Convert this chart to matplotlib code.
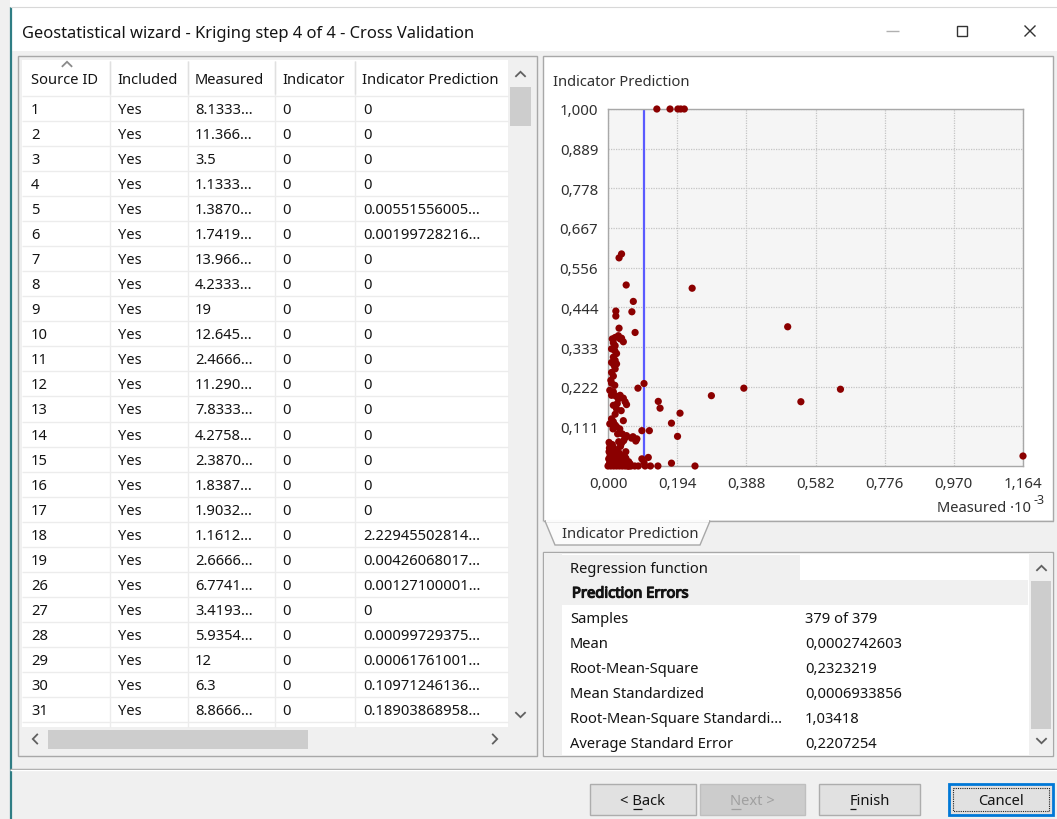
import matplotlib
matplotlib.use("Agg")
import matplotlib.pyplot as plt
import matplotlib.patheffects as pe
from matplotlib.patches import Rectangle, Polygon
from matplotlib.ticker import FixedLocator, FuncFormatter

plt.rcParams['font.family'] = ['Noto Sans', 'DejaVu Sans']

W, H = 1057, 820

# ---------------- data ----------------
window_title = "Geostatistical wizard - Kriging step 4 of 4 - Cross Validation"

table_columns = ["Source ID", "Included", "Measured", "Indicator", "Indicator Prediction"]
source_ids = ["1", "2", "3", "4", "5", "6", "7", "8", "9", "10", "11", "12", "13", "14",
              "15", "16", "17", "18", "19", "26", "27", "28", "29", "30", "31"]
included = ["Yes"] * len(source_ids)
measured_text = ["8.1333...", "11.366...", "3.5", "1.1333...", "1.3870...", "1.7419...",
                 "13.966...", "4.2333...", "19", "12.645...", "2.4666...", "11.290...",
                 "7.8333...", "4.2758...", "2.3870...", "1.8387...", "1.9032...", "1.1612...",
                 "2.6666...", "6.7741...", "3.4193...", "5.9354...", "12", "6.3", "8.8666..."]
indicator = ["0"] * len(source_ids)
prediction_text = ["0", "0", "0", "0", "0.00551556005...", "0.00199728216...", "0", "0",
                   "0", "0", "0", "0", "0", "0", "0", "0", "0", "2.22945502814...",
                   "0.00426068017...", "0.00127100001...", "0", "0.00099729375...",
                   "0.00061761001...", "0.10971246136...", "0.18903868958..."]

stat_labels = ["Samples", "Mean", "Root-Mean-Square", "Mean Standardized",
               "Root-Mean-Square Standardi...", "Average Standard Error"]
stat_values = ["379 of 379", "0,0002742603", "0,2323219", "0,0006933856",
               "1,03418", "0,2207254"]

# cross-validation scatter (Measured in units of 10^-3, indicator prediction)
measured = [
    0.137, 0.174, 0.196, 0.204, 0.214,
    0.031, 0.038, 0.051, 0.236, 0.071, 0.067, 0.022, 0.022, 0.031, 0.076,
    0.504, 0.381, 0.652, 0.290, 0.541, 0.101, 0.084, 0.141, 0.146, 0.202,
    0.178, 0.195, 0.095, 0.116, 0.081, 0.078, 0.178, 0.244, 1.164,
    0.095, 0.113, 0.101, 0.104, 0.119, 0.140, 0.085, 0.075, 0.065, 0.057,
    0.012, 0.020, 0.029, 0.034, 0.038, 0.043, 0.015, 0.020, 0.010, 0.019,
    0.024, 0.015, 0.020, 0.010, 0.017, 0.024, 0.020, 0.010, 0.015, 0.008,
    0.010, 0.019,
    0.005, 0.015, 0.010, 0.022, 0.034, 0.029, 0.043, 0.048, 0.052, 0.026,
    0.015, 0.024, 0.020, 0.037, 0.010, 0.015, 0.005, 0.020, 0.024, 0.043,
    0.033, 0.014, 0.040, 0.052, 0.048, 0.044, 0.066, 0.070,
    0.003, 0.006, 0.012, 0.004, 0.015, 0.022, 0.003, 0.010, 0.018, 0.030,
    0.035, 0.006, 0.014, 0.024, 0.033, 0.002, 0.010, 0.020, 0.029, 0.040,
    0.005, 0.015, 0.025, 0.035, 0.045, 0.000, 0.008, 0.016, 0.024, 0.032,
    0.040, 0.048, 0.003, 0.012, 0.020, 0.028, 0.036,
    0.055, 0.060, 0.050, 0.058, 0.030, 0.027, 0.045, 0.038, 0.062, 0.050,
]
prediction = [
    1.000, 1.000, 1.000, 1.000, 1.000,
    0.583, 0.594, 0.507, 0.498, 0.461, 0.432, 0.434, 0.420, 0.386, 0.374,
    0.390, 0.218, 0.215, 0.197, 0.180, 0.231, 0.218, 0.181, 0.162, 0.148,
    0.120, 0.083, 0.099, 0.099, 0.076, 0.070, 0.008, 0.000, 0.028,
    0.020, 0.024, 0.010, 0.000, 0.000, 0.000, 0.000, 0.000, 0.000, 0.000,
    0.356, 0.360, 0.365, 0.356, 0.358, 0.348, 0.345, 0.337, 0.328, 0.323,
    0.315, 0.305, 0.296, 0.290, 0.282, 0.286, 0.272, 0.262, 0.252, 0.240,
    0.232, 0.226,
    0.212, 0.208, 0.198, 0.196, 0.198, 0.188, 0.190, 0.180, 0.172, 0.175,
    0.170, 0.160, 0.145, 0.155, 0.132, 0.124, 0.118, 0.115, 0.110, 0.127,
    0.104, 0.104, 0.090, 0.085, 0.079, 0.071, 0.078, 0.082,
    0.066, 0.058, 0.060, 0.050, 0.052, 0.045, 0.040, 0.040, 0.036, 0.038,
    0.055, 0.030, 0.028, 0.026, 0.030, 0.020, 0.020, 0.016, 0.018, 0.020,
    0.010, 0.008, 0.010, 0.008, 0.012, 0.000, 0.000, 0.000, 0.000, 0.000,
    0.000, 0.000, 0.004, 0.003, 0.005, 0.003, 0.004,
    0.000, 0.000, 0.022, 0.012, 0.068, 0.090, 0.030, 0.064, 0.006, 0.040,
]
threshold = 0.101
x_ticks = [0.000, 0.194, 0.388, 0.582, 0.776, 0.970, 1.164]
y_ticks = [0.111, 0.222, 0.333, 0.444, 0.556, 0.667, 0.778, 0.889, 1.000]

# ---------------- figure / UI layer in pixel coordinates ----------------
fig = plt.figure(figsize=(W / 100, H / 100), dpi=100)
fig.patch.set_facecolor("#f0f0f0")
ui = fig.add_axes([0, 0, 1, 1])
ui.set_xlim(0, W)
ui.set_ylim(H, 0)
ui.axis("off")

TXT = "#141414"
FS = 10.6


def rect(x0, y0, x1, y1, fc="none", ec="none", lw=1.0, **kw):
    ui.add_patch(Rectangle((x0, y0), x1 - x0, y1 - y0, facecolor=fc, edgecolor=ec,
                           linewidth=lw, **kw))


def txt(x, y, s, size=FS, color=TXT, ha="left", **kw):
    return ui.text(x, y, s, fontsize=size, color=color, ha=ha, va="center", **kw)


def hline(x0, x1, y, color, lw=1.0, **kw):
    ui.plot([x0, x1], [y, y], color=color, lw=lw, solid_capstyle="butt", **kw)


def vline(x, y0, y1, color, lw=1.0, **kw):
    ui.plot([x, x], [y0, y1], color=color, lw=lw, solid_capstyle="butt", **kw)


def chevron(xc, yc, up, color="#606060"):
    d = -1 if up else 1
    ui.plot([xc - 4.5, xc, xc + 4.5], [yc - 2.2 * d, yc + 2.2 * d, yc - 2.2 * d],
            color=color, lw=1.3, solid_joinstyle="miter")


def side_chevron(xc, yc, left, color="#606060"):
    d = -1 if left else 1
    ui.plot([xc - 2.2 * d, xc + 2.2 * d, xc - 2.2 * d], [yc - 4.5, yc, yc + 4.5],
            color=color, lw=1.3, solid_joinstyle="miter")


# title bar
rect(10, 0, W, 52, fc="white")
vline(10.5, 8, H, "#2f7d84", lw=1.6)
hline(10, W, 8, "#d8d8d8", lw=0.8)
txt(22, 33.5, window_title, size=11.9)
hline(886, 899, 32, "#b0b0b0", lw=1.0)
rect(957, 27, 967, 37, ec="#333333", lw=1.0)
ui.plot([1025, 1035], [27, 37], color="#333333", lw=1.0)
ui.plot([1025, 1035], [37, 27], color="#333333", lw=1.0)

# ---------------- left table ----------------
rect(18, 57, 537, 757, fc="#f0f0f0", ec="#a8a8a8", lw=1.0)
rect(22, 61, 508, 728, fc="white")
col_x = [24, 110, 188, 275, 355, 508]
for cx in col_x[1:-1]:
    vline(cx, 62, 728, "#ececec", lw=1.0)
for cx in col_x[1:-1]:
    vline(cx, 62, 95, "#e0e0e0", lw=1.0)
row0, pitch = 110, 25.08
hdr_y = 80
for i, name in enumerate(table_columns):
    txt(col_x[i] + 7, hdr_y, name)
chevron(67, 65, up=True, color="#8a8a8a")
hline(22, 508, 96.5, "#ececec")
for r in range(len(source_ids)):
    y = row0 + r * pitch
    hline(22, 508, y + pitch / 2 - 1, "#ececec")
    txt(col_x[0] + 7, y, source_ids[r])
    txt(col_x[1] + 8, y, included[r])
    txt(col_x[2] + 7, y, measured_text[r])
    txt(col_x[3] + 7, y, indicator[r])
    txt(col_x[4] + 8, y, prediction_text[r])

# vertical scrollbar
rect(508, 61, 533, 728, fc="#f0f0f0")
rect(510, 88, 531, 127, fc="#cdcdcd")
chevron(520.5, 75, up=True)
chevron(520.5, 716, up=False)
# horizontal scrollbar
rect(22, 728, 508, 752, fc="#f0f0f0")
rect(48, 731, 308, 750, fc="#cdcdcd")
side_chevron(35, 740, left=True)
side_chevron(495, 740, left=False)

# ---------------- right chart panel ----------------
rect(543, 57, 1053, 522, fc="white", ec="#a8a8a8", lw=1.0)
txt(553, 83, "Indicator Prediction", size=FS, color="#303030")
txt(1031, 509, "Measured \u00b710", size=FS, color="#303030", ha="right")
txt(1033, 501, "-3", size=9, color="#303030")

# tab strip
rect(543, 522, 1053, 548, fc="#f0f0f0")
hline(543, 1053, 522, "#a8a8a8")
ui.add_patch(Polygon([(545, 522), (555, 546), (700, 546), (710, 522)], closed=True,
                     facecolor="#fbfbfb", edgecolor="#a8a8a8", linewidth=1.0))
hline(546, 709, 522, "#fbfbfb", lw=1.5)
txt(562, 535, "Indicator Prediction", size=FS, color="#303030")

# ---------------- statistics panel ----------------
rect(543, 553, 1053, 757, fc="white", ec="#a8a8a8", lw=1.0)
rect(544, 554, 562, 756, fc="#f0f0f0")
rect(562, 556, 800, 581, fc="#f0f0f0")
rect(562, 581, 1028, 606, fc="#f0f0f0")
txt(570, 570, "Regression function")
txt(572, 595, "Prediction Errors",
    path_effects=[pe.withStroke(linewidth=0.9, foreground=TXT)])
for i, (lab, val) in enumerate(zip(stat_labels, stat_values)):
    y = 620 + 25 * i
    txt(570, y, lab)
    txt(805, y, val)
rect(1029, 554, 1052, 756, fc="#f0f0f0")
rect(1031, 582, 1051, 730, fc="#cdcdcd")
chevron(1041.5, 569, up=True)
chevron(1041.5, 742, up=False)

# ---------------- footer buttons ----------------
hline(10, W, 769.5, "#a0a0a0")
hline(10, W, 770.8, "white")


def button(x0, x1, label, enabled=True, focused=False):
    fc = "#e1e1e1" if enabled else "#cccccc"
    ec = "#adadad" if enabled else "#bfbfbf"
    if focused:
        rect(x0, 785, x1, 816, fc=fc, ec="#0078d7", lw=2.0)
        rect(x0 + 4, 789, x1 - 4, 812, ec="#202020", lw=0.8, linestyle=(0, (1, 1)))
    else:
        rect(x0, 785, x1, 816, fc=fc, ec=ec, lw=1.0)
    color = TXT if enabled else "#a0a0a0"
    t = txt((x0 + x1) / 2, 802, label, size=FS, color=color, ha="center")
    return t, color


buttons = [button(590, 696, "< Back"), button(700, 805, "Next >", enabled=False),
           button(819, 920, "Finish"), button(949, 1053, "Cancel", focused=True)]
mnemonics = [2, 0, 0, None]

# ---------------- scatter chart ----------------
ax = fig.add_axes([608 / W, 1 - 467 / H, (1023 - 608) / W, (467 - 110) / H])
ax.set_facecolor("#f5f5f5")
ax.set_xlim(0, 1.164)
ax.set_ylim(0, 1.0)
ax.xaxis.set_major_locator(FixedLocator(x_ticks))
ax.yaxis.set_major_locator(FixedLocator(y_ticks))
comma = FuncFormatter(lambda v, p: f"{v:.3f}".replace(".", ","))
ax.xaxis.set_major_formatter(comma)
ax.yaxis.set_major_formatter(comma)
ax.tick_params(length=0, labelsize=10.8, labelcolor="#303030", pad=7)
ax.grid(True, color="#c4c4c4", linestyle=(0, (1, 1)), linewidth=0.9)
ax.set_axisbelow(True)
for sp in ax.spines.values():
    sp.set_color("#a8a8a8")
    sp.set_linewidth(1.0)
ax.axvline(threshold, color="#5a5aff", lw=1.6, zorder=2)
ax.scatter(measured, prediction, s=27, color="#8b0000", edgecolors="none",
           zorder=3, clip_on=False)

# mnemonic underlines on the buttons
fig.canvas.draw()
renderer = fig.canvas.get_renderer()
for (t, color), idx in zip(buttons, mnemonics):
    if idx is None:
        continue
    s = t.get_text()
    bb = t.get_window_extent(renderer)
    probe = ui.text(0, 0, s[:idx], fontsize=FS)
    w0 = probe.get_window_extent(renderer).width if idx > 0 else 0
    probe.set_text(s[:idx + 1])
    w1 = probe.get_window_extent(renderer).width
    probe.remove()
    hline(bb.x0 + w0 + 0.5, bb.x0 + w1 - 0.5, 810, color, lw=0.9)

fig.savefig("out.png", dpi=100, facecolor=fig.get_facecolor())
